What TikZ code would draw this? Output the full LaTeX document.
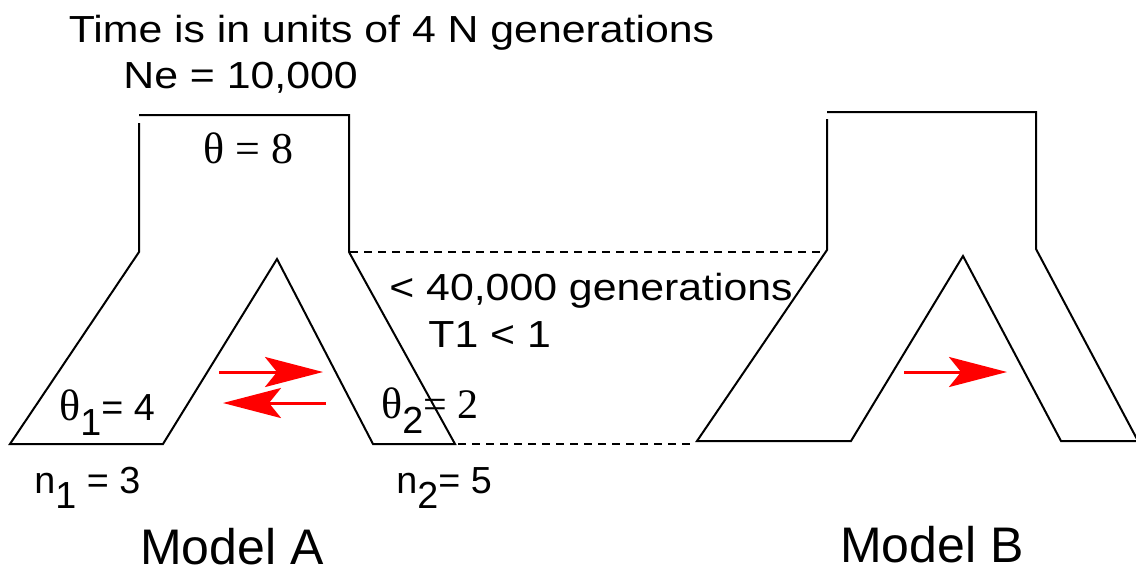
\documentclass[tikz,border=0pt]{standalone}
\usepackage{fontspec}
\setmainfont{Liberation Sans}
\newfontfamily\lserif{Liberation Serif}
\usetikzlibrary{arrows.meta}
\tikzset{
  outline/.style={line width=1pt, line join=miter},
  guide/.style={line width=0.9pt, dash pattern=on 4pt off 3pt},
  flow/.style={draw=red, line width=1.5pt, -{Stealth[length=29pt,width=15pt,inset=6pt]}},
  lbl/.style={inner sep=0pt, font=\fontsize{18.85pt}{22pt}\selectfont},
  big/.style={inner sep=0pt, font=\fontsize{25pt}{30pt}\selectfont},
}
\newcommand{\widetxt}[1]{\scalebox{1.135}[1]{#1}}
\newcommand{\lowsub}[1]{\raisebox{-7.5pt}{#1}}
\newcommand{\thet}{{\lserif\fontsize{22pt}{24pt}\selectfont θ}}
\begin{document}
\begin{tikzpicture}[x=0.5pt,y=-0.5pt]
\useasboundingbox (0,0) rectangle (1136,575);
% Model A
\draw[outline] (139,123) -- (139,252) -- (10,444) -- (163,444) -- (277,259) -- (373,444) -- (455,444) -- (349,252) -- (349,115) -- (139,115);
% Model B
\draw[outline] (827,119) -- (827,250) -- (697,441) -- (851,441) -- (963,256) -- (1061,441) -- (1138,441) -- (1036,249) -- (1036,112) -- (827,112);
% time guides
\coordinate (gA1) at (350,252); \coordinate (gB1) at (825,252);
\coordinate (gA2) at (458,444); \coordinate (gB2) at (692,444);
\draw[guide] (gA1) -- (gB1);
\draw[guide] (gA2) -- (gB2);
% migration arrows
\coordinate (a1s) at (219,372); \coordinate (a1e) at (323,372);
\coordinate (a2s) at (326,403); \coordinate (a2e) at (223,403);
\coordinate (b1s) at (904,372); \coordinate (b1e) at (1007,372);
\draw[flow] (a1s) -- (a1e);
\draw[flow] (a2s) -- (a2e);
\draw[flow] (b1s) -- (b1e);
% labels
\node[lbl, anchor=base] (title) at (391.5,42) {\widetxt{Time is in units of 4 N generations}};
\node[lbl, anchor=base west] (ne) at (123,88) {\widetxt{Ne = 10,000}};
\node[lbl, anchor=base west] (theta) at (203,163) {\lserif\fontsize{22pt}{24pt}\selectfont θ = 8};
\node[lbl, anchor=base west] (th1) at (59,420) {\thet\lowsub{1}= 4};
\node[lbl, anchor=base west] (th2) at (381,418) {\thet\lowsub{2}{\lserif\fontsize{21pt}{24pt}\selectfont= 2}};
\node[lbl, anchor=base west] (n1) at (34,493) {n\lowsub{1} = 3};
\node[lbl, anchor=base west] (n2) at (396,493) {n\lowsub{2}= 5};
\node[lbl, anchor=base west] (gen) at (389,300) {\widetxt{< 40,000 generations}};
\node[lbl, anchor=base west] (t1) at (428,347) {\widetxt{T1 < 1}};
\node[big, anchor=base] (ma) at (232,564) {Model A};
\node[big, anchor=base] (mb) at (932,562) {Model B};
\end{tikzpicture}
\end{document}
